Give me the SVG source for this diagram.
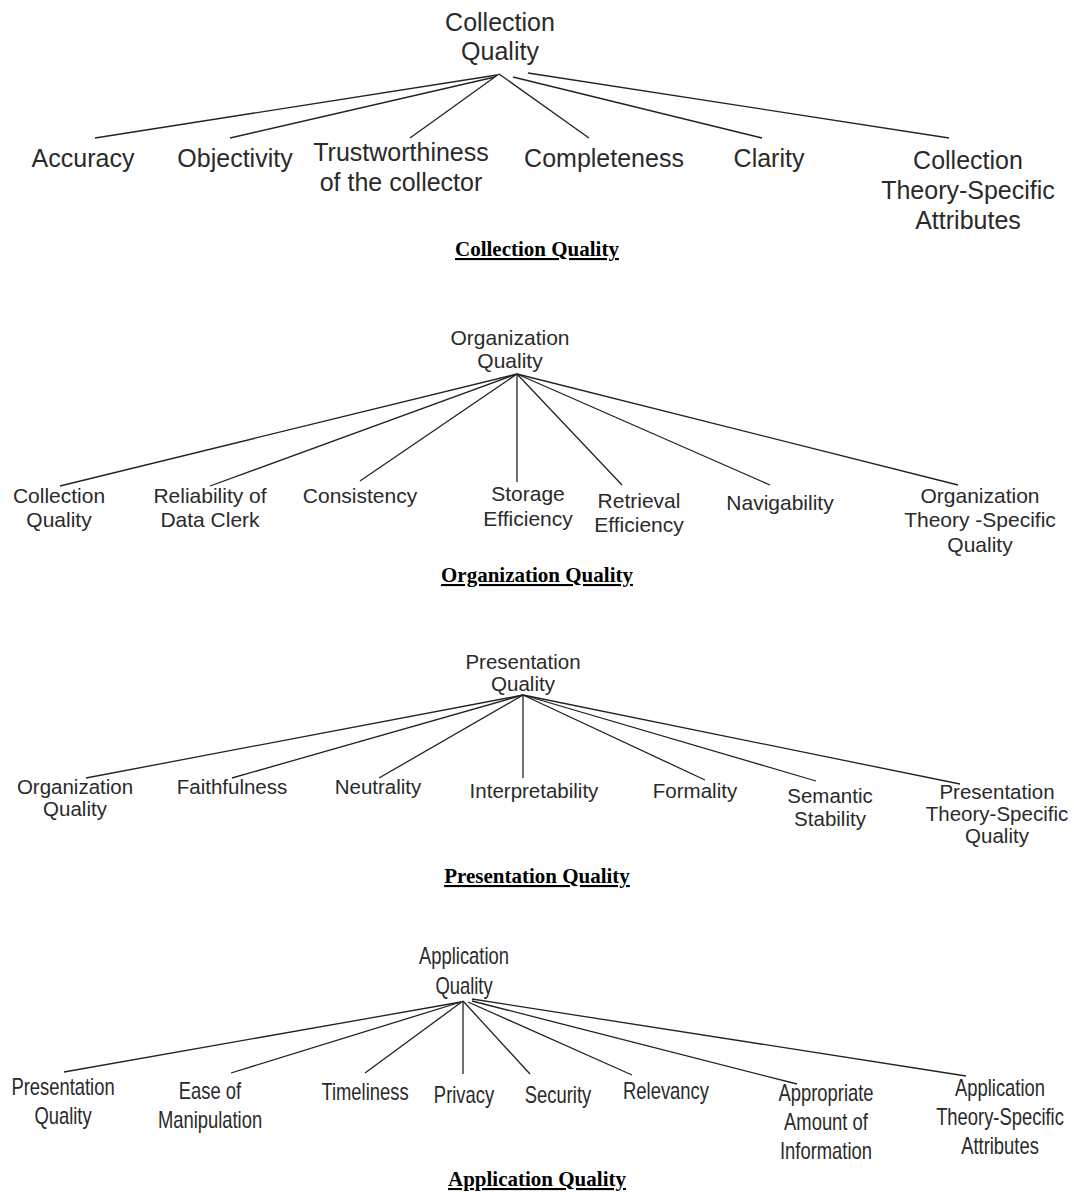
<svg xmlns="http://www.w3.org/2000/svg" width="1074" height="1192" viewBox="0 0 1074 1192">
<style>
  text { font-family: "Liberation Sans", Arial, sans-serif; fill: #2a2a2a; text-anchor: middle; }
  .s1 { font-size: 25px; }
  .s2 { font-size: 21px; }
  .s3 { font-size: 20.5px; }
  .s4 { font-size: 23px; }
  .cap { font-family: "Liberation Serif", "Times New Roman", serif; font-weight: bold; font-size: 21px; fill: #000; text-decoration: underline; }
  .conn line { stroke: #222; stroke-width: 1.3; fill: none; }
</style>
<rect width="1074" height="1192" fill="#fff"/>

<!-- ===== Section 1: Collection Quality ===== -->
<g id="connectors-collection" class="conn">
  <line x1="497" y1="75" x2="95" y2="138"/>
  <line x1="495" y1="77" x2="230" y2="138"/>
  <line x1="499" y1="74" x2="410" y2="138"/>
  <line x1="499" y1="74" x2="589" y2="138"/>
  <line x1="513" y1="77" x2="762" y2="138"/>
  <line x1="528" y1="73" x2="949" y2="138"/>
</g>
<g id="c-root"><text class="s1" x="500" y="31">Collection<tspan x="500" dy="29">Quality</tspan></text></g>
<g id="c-accuracy"><text class="s1" x="83" y="167">Accuracy</text></g>
<g id="c-objectivity"><text class="s1" x="235" y="167">Objectivity</text></g>
<g id="c-trust"><text class="s1" x="401" y="161">Trustworthiness<tspan x="401" dy="30">of the collector</tspan></text></g>
<g id="c-completeness"><text class="s1" x="604" y="167">Completeness</text></g>
<g id="c-clarity"><text class="s1" x="769" y="167">Clarity</text></g>
<g id="c-theory"><text class="s1" x="968" y="169">Collection<tspan x="968" dy="30">Theory-Specific</tspan><tspan x="968" dy="30">Attributes</tspan></text></g>
<g id="cap-collection"><text class="cap" x="537" y="256">Collection Quality</text></g>

<!-- ===== Section 2: Organization Quality ===== -->
<g id="connectors-organization" class="conn">
  <line x1="517" y1="374" x2="60" y2="486"/>
  <line x1="517" y1="374" x2="210" y2="486"/>
  <line x1="517" y1="374" x2="360" y2="481"/>
  <line x1="517" y1="374" x2="517" y2="482"/>
  <line x1="517" y1="374" x2="622" y2="485"/>
  <line x1="517" y1="374" x2="770" y2="485"/>
  <line x1="517" y1="374" x2="958" y2="485"/>
</g>
<g id="o-root"><text class="s2" x="510" y="345">Organization<tspan x="510" dy="23">Quality</tspan></text></g>
<g id="o-collection"><text class="s2" x="59" y="503">Collection<tspan x="59" dy="24">Quality</tspan></text></g>
<g id="o-reliability"><text class="s2" x="210" y="503">Reliability of<tspan x="210" dy="24">Data Clerk</tspan></text></g>
<g id="o-consistency"><text class="s2" x="360" y="503">Consistency</text></g>
<g id="o-storage"><text class="s2" x="528" y="501">Storage<tspan x="528" dy="25">Efficiency</tspan></text></g>
<g id="o-retrieval"><text class="s2" x="639" y="508">Retrieval<tspan x="639" dy="24">Efficiency</tspan></text></g>
<g id="o-navigability"><text class="s2" x="780" y="510">Navigability</text></g>
<g id="o-theory"><text class="s2" x="980" y="503">Organization<tspan x="980" dy="24">Theory -Specific</tspan><tspan x="980" dy="25">Quality</tspan></text></g>
<g id="cap-organization"><text class="cap" x="537" y="582">Organization Quality</text></g>

<!-- ===== Section 3: Presentation Quality ===== -->
<g id="connectors-presentation" class="conn">
  <line x1="523" y1="695" x2="86" y2="778"/>
  <line x1="523" y1="695" x2="232" y2="778"/>
  <line x1="523" y1="695" x2="379" y2="778"/>
  <line x1="523" y1="695" x2="523" y2="778"/>
  <line x1="523" y1="695" x2="705" y2="780"/>
  <line x1="523" y1="695" x2="816" y2="781"/>
  <line x1="523" y1="695" x2="960" y2="784"/>
</g>
<g id="p-root"><text class="s3" x="523" y="669">Presentation<tspan x="523" dy="22">Quality</tspan></text></g>
<g id="p-organization"><text class="s3" x="75" y="794">Organization<tspan x="75" dy="22">Quality</tspan></text></g>
<g id="p-faithfulness"><text class="s3" x="232" y="794">Faithfulness</text></g>
<g id="p-neutrality"><text class="s3" x="378" y="794">Neutrality</text></g>
<g id="p-interpretability"><text class="s3" x="534" y="798">Interpretability</text></g>
<g id="p-formality"><text class="s3" x="695" y="798">Formality</text></g>
<g id="p-semantic"><text class="s3" x="830" y="803">Semantic<tspan x="830" dy="23">Stability</tspan></text></g>
<g id="p-theory"><text class="s3" x="997" y="799">Presentation<tspan x="997" dy="22">Theory-Specific</tspan><tspan x="997" dy="22">Quality</tspan></text></g>
<g id="cap-presentation"><text class="cap" x="537" y="883">Presentation Quality</text></g>

<!-- ===== Section 4: Application Quality ===== -->
<g id="connectors-application" class="conn">
  <line x1="461" y1="1002" x2="64" y2="1072"/>
  <line x1="461" y1="1002" x2="231" y2="1073"/>
  <line x1="463" y1="1001" x2="365" y2="1073"/>
  <line x1="463" y1="1001" x2="463" y2="1074"/>
  <line x1="463" y1="1001" x2="530" y2="1074"/>
  <line x1="468" y1="1002" x2="632" y2="1075"/>
  <line x1="472" y1="1001" x2="797" y2="1084"/>
  <line x1="472" y1="999" x2="966" y2="1076"/>
</g>
<g id="a-root"><text class="s4" transform="translate(464 0) scale(0.8 1)" x="0" y="964">Application<tspan x="0" dy="30">Quality</tspan></text></g>
<g id="a-presentation"><text class="s4" transform="translate(63 0) scale(0.8 1)" x="0" y="1095">Presentation<tspan x="0" dy="29">Quality</tspan></text></g>
<g id="a-ease"><text class="s4" transform="translate(210 0) scale(0.8 1)" x="0" y="1099">Ease of<tspan x="0" dy="29">Manipulation</tspan></text></g>
<g id="a-timeliness"><text class="s4" transform="translate(365 0) scale(0.8 1)" x="0" y="1100">Timeliness</text></g>
<g id="a-privacy"><text class="s4" transform="translate(464 0) scale(0.8 1)" x="0" y="1103">Privacy</text></g>
<g id="a-security"><text class="s4" transform="translate(558 0) scale(0.8 1)" x="0" y="1103">Security</text></g>
<g id="a-relevancy"><text class="s4" transform="translate(666 0) scale(0.8 1)" x="0" y="1099">Relevancy</text></g>
<g id="a-appropriate"><text class="s4" transform="translate(826 0) scale(0.8 1)" x="0" y="1101">Appropriate<tspan x="0" dy="29">Amount of</tspan><tspan x="0" dy="29">Information</tspan></text></g>
<g id="a-theory"><text class="s4" transform="translate(1000 0) scale(0.8 1)" x="0" y="1096">Application<tspan x="0" dy="29">Theory-Specific</tspan><tspan x="0" dy="29">Attributes</tspan></text></g>
<g id="cap-application"><text class="cap" x="537" y="1186">Application Quality</text></g>
</svg>
